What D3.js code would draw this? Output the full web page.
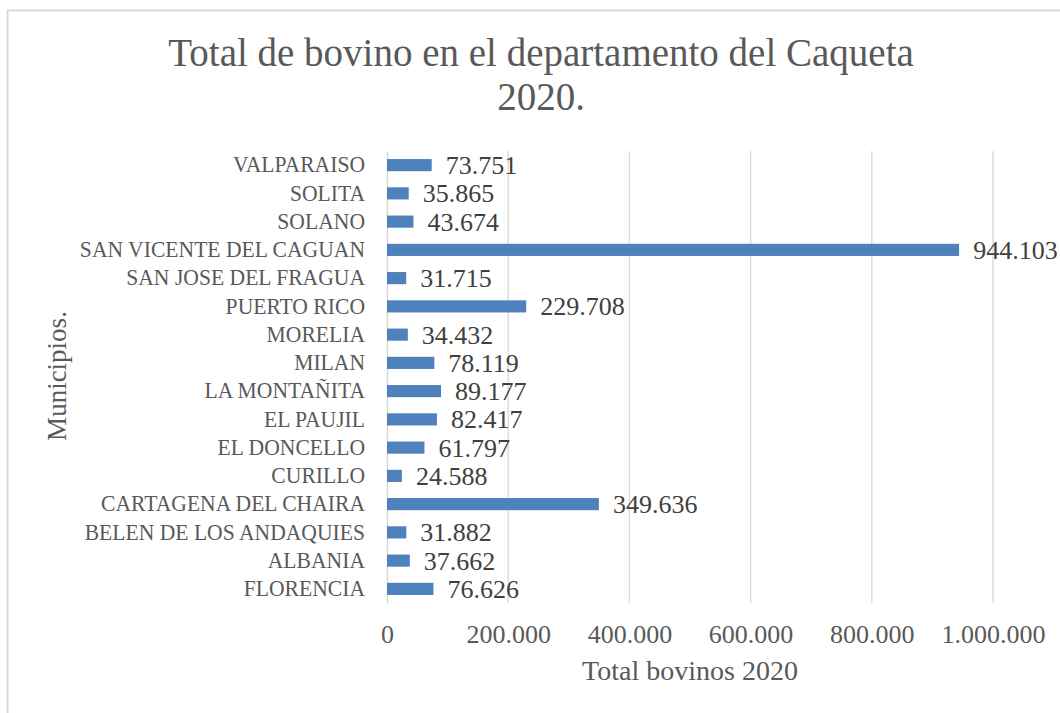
<!DOCTYPE html>
<html>
<head>
<meta charset="utf-8">
<script src="https://cdn.jsdelivr.net/npm/d3@7"></script>
<style>
  body { margin: 0; background: #fff; }
  svg text { font-family: "Liberation Serif", "DejaVu Serif", serif; }
</style>
</head>
<body>
<svg id="chart" width="1060" height="713"></svg>
<script>
// municipios, bottom to top as in the chart
const municipios = [
  "FLORENCIA", "ALBANIA", "BELEN DE LOS ANDAQUIES", "CARTAGENA DEL CHAIRA",
  "CURILLO", "EL DONCELLO", "EL PAUJIL", "LA MONTAÑITA", "MILAN", "MORELIA",
  "PUERTO RICO", "SAN JOSE DEL FRAGUA", "SAN VICENTE DEL CAGUAN", "SOLANO",
  "SOLITA", "VALPARAISO"
];
const bovinos = [
  76626, 37662, 31882, 349636, 24588, 61797, 82417, 89177, 78119, 34432,
  229708, 31715, 944103, 43674, 35865, 73751
];
const xTicks = [0, 200000, 400000, 600000, 800000, 1000000];

const data = municipios.map((m, i) => ({ name: m, value: bovinos[i] }));

const svg = d3.select("#chart");
const plotLeft = 387, plotRight = 993, plotTop = 151, plotBottom = 603;
const labelScale = 0.94;

// marco del grafico
svg.append("rect")
  .attr("x", 7.5).attr("y", 10.5)
  .attr("width", 1070).attr("height", 720)
  .attr("fill", "none")
  .attr("stroke", "#d9d9d9")
  .attr("stroke-width", 2);

const x = d3.scaleLinear().domain([0, 1000000]).range([plotLeft, plotRight]);
const y = d3.scaleBand()
  .domain(municipios.slice().reverse())
  .range([plotTop, plotBottom])
  .paddingInner(0.57)
  .paddingOuter(0.285);

const fmt = v => d3.format(",")(v).replace(/,/g, ".");

// gridlines
svg.append("g")
  .selectAll("line")
  .data(xTicks.slice(1))
  .join("line")
  .attr("x1", d => x(d)).attr("x2", d => x(d))
  .attr("y1", plotTop).attr("y2", plotBottom)
  .attr("stroke", "#d9d9d9")
  .attr("stroke-width", 1.3);

// x axis labels
const xAxis = svg.append("g")
  .attr("transform", "translate(0," + plotBottom + ")")
  .call(d3.axisBottom(x).tickValues(xTicks).tickFormat(fmt).tickSize(0).tickPadding(0));
xAxis.select(".domain").remove();
xAxis.selectAll(".tick text")
  .attr("y", 40)
  .attr("dy", null)
  .attr("font-size", 26)
  .attr("fill", "#595959")
  .style("font-family", "Liberation Serif");

// y axis
const yAxis = svg.append("g")
  .attr("transform", "translate(" + plotLeft + ",0)")
  .call(d3.axisLeft(y).tickSize(0).tickPadding(22));
yAxis.select(".domain")
  .attr("stroke", "#d9d9d9")
  .attr("stroke-width", 1.5);
yAxis.selectAll(".tick text")
  .attr("x", -22 / labelScale)
  .attr("transform", "scale(" + labelScale + ",1)")
  .attr("font-size", 23)
  .attr("fill", "#595959")
  .style("font-family", "Liberation Serif");

// bars
svg.append("g")
  .selectAll("rect")
  .data(data)
  .join("rect")
  .attr("x", x(0))
  .attr("y", d => y(d.name))
  .attr("width", d => x(d.value) - x(0))
  .attr("height", y.bandwidth())
  .attr("fill", "#4f81bd");

// data labels
svg.append("g")
  .selectAll("text")
  .data(data)
  .join("text")
  .attr("x", d => x(d.value) + 14)
  .attr("y", d => y(d.name) + y.bandwidth() / 2)
  .attr("dy", "0.35em")
  .attr("font-size", 26)
  .attr("fill", "#404040")
  .text(d => fmt(d.value));

// title
const title = svg.append("text")
  .attr("x", 541)
  .attr("text-anchor", "middle")
  .attr("font-size", 39)
  .attr("fill", "#595959");
title.append("tspan").attr("x", 541).attr("y", 66).text("Total de bovino en el departamento del Caqueta");
title.append("tspan").attr("x", 541).attr("y", 110).text("2020.");

// axis titles
svg.append("text")
  .attr("x", 690).attr("y", 680)
  .attr("text-anchor", "middle")
  .attr("font-size", 28)
  .attr("fill", "#595959")
  .text("Total bovinos 2020");

svg.append("text")
  .attr("transform", "translate(66,376) rotate(-90)")
  .attr("text-anchor", "middle")
  .attr("font-size", 27)
  .attr("fill", "#595959")
  .text("Municipios.");
</script>
</body>
</html>
